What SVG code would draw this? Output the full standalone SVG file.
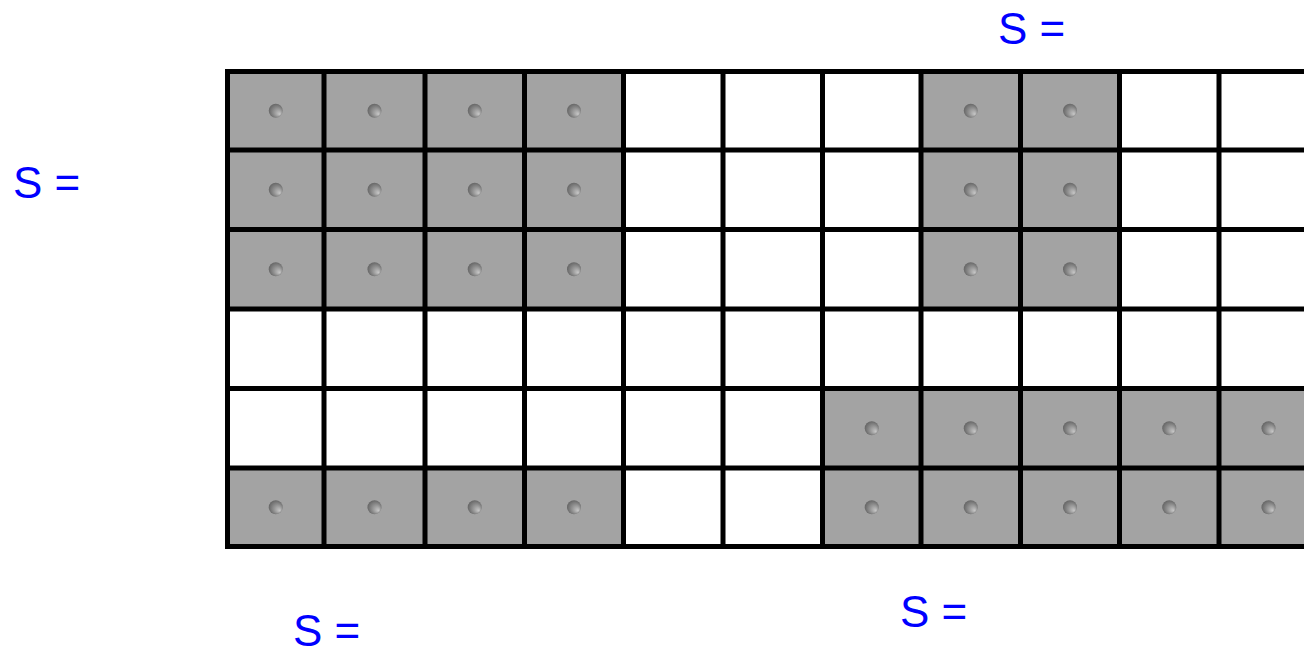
<svg xmlns="http://www.w3.org/2000/svg" width="1304" height="655" viewBox="0 0 1304 655">
<style>
.cell{fill:#a3a3a3;}
.dot{fill:url(#dg);}
.grid line{stroke:#000;stroke-width:5;}
.lbl{font-family:"Liberation Sans",Arial,sans-serif;font-size:44px;fill:#0000ff;}
</style>
<defs>
<radialGradient id="dg" cx="0.5" cy="0.5" r="0.6" fx="0.8" fy="0.75">
<stop offset="0" stop-color="#c8c8c8"/>
<stop offset="1" stop-color="#5a5a5a"/>
</radialGradient>
</defs>
<rect width="1304" height="655" fill="#fff"/>
<g id="cells">
<g id="c0-0"><rect class="cell" x="227.5" y="71.5" width="96.5" height="78.5"/><circle class="dot" cx="275.75" cy="110.75" r="7"/></g>
<g id="c0-1"><rect class="cell" x="324" y="71.5" width="101" height="78.5"/><circle class="dot" cx="374.5" cy="110.75" r="7"/></g>
<g id="c0-2"><rect class="cell" x="425" y="71.5" width="99.5" height="78.5"/><circle class="dot" cx="474.75" cy="110.75" r="7"/></g>
<g id="c0-3"><rect class="cell" x="524.5" y="71.5" width="99" height="78.5"/><circle class="dot" cx="574" cy="110.75" r="7"/></g>
<g id="c0-7"><rect class="cell" x="921" y="71.5" width="99.5" height="78.5"/><circle class="dot" cx="970.75" cy="110.75" r="7"/></g>
<g id="c0-8"><rect class="cell" x="1020.5" y="71.5" width="99" height="78.5"/><circle class="dot" cx="1070" cy="110.75" r="7"/></g>

<g id="c1-0"><rect class="cell" x="227.5" y="150" width="96.5" height="79.5"/><circle class="dot" cx="275.75" cy="189.75" r="7"/></g>
<g id="c1-1"><rect class="cell" x="324" y="150" width="101" height="79.5"/><circle class="dot" cx="374.5" cy="189.75" r="7"/></g>
<g id="c1-2"><rect class="cell" x="425" y="150" width="99.5" height="79.5"/><circle class="dot" cx="474.75" cy="189.75" r="7"/></g>
<g id="c1-3"><rect class="cell" x="524.5" y="150" width="99" height="79.5"/><circle class="dot" cx="574" cy="189.75" r="7"/></g>
<g id="c1-7"><rect class="cell" x="921" y="150" width="99.5" height="79.5"/><circle class="dot" cx="970.75" cy="189.75" r="7"/></g>
<g id="c1-8"><rect class="cell" x="1020.5" y="150" width="99" height="79.5"/><circle class="dot" cx="1070" cy="189.75" r="7"/></g>

<g id="c2-0"><rect class="cell" x="227.5" y="229.5" width="96.5" height="79.5"/><circle class="dot" cx="275.75" cy="269.25" r="7"/></g>
<g id="c2-1"><rect class="cell" x="324" y="229.5" width="101" height="79.5"/><circle class="dot" cx="374.5" cy="269.25" r="7"/></g>
<g id="c2-2"><rect class="cell" x="425" y="229.5" width="99.5" height="79.5"/><circle class="dot" cx="474.75" cy="269.25" r="7"/></g>
<g id="c2-3"><rect class="cell" x="524.5" y="229.5" width="99" height="79.5"/><circle class="dot" cx="574" cy="269.25" r="7"/></g>
<g id="c2-7"><rect class="cell" x="921" y="229.5" width="99.5" height="79.5"/><circle class="dot" cx="970.75" cy="269.25" r="7"/></g>
<g id="c2-8"><rect class="cell" x="1020.5" y="229.5" width="99" height="79.5"/><circle class="dot" cx="1070" cy="269.25" r="7"/></g>

<g id="c4-6"><rect class="cell" x="822.5" y="388.5" width="98.5" height="79.5"/><circle class="dot" cx="871.75" cy="428.25" r="7"/></g>
<g id="c4-7"><rect class="cell" x="921" y="388.5" width="99.5" height="79.5"/><circle class="dot" cx="970.75" cy="428.25" r="7"/></g>
<g id="c4-8"><rect class="cell" x="1020.5" y="388.5" width="99" height="79.5"/><circle class="dot" cx="1070" cy="428.25" r="7"/></g>
<g id="c4-9"><rect class="cell" x="1119.5" y="388.5" width="99.5" height="79.5"/><circle class="dot" cx="1169.25" cy="428.25" r="7"/></g>
<g id="c4-10"><rect class="cell" x="1219" y="388.5" width="99" height="79.5"/><circle class="dot" cx="1268.5" cy="428.25" r="7"/></g>

<g id="c5-0"><rect class="cell" x="227.5" y="468" width="96.5" height="78.5"/><circle class="dot" cx="275.75" cy="507.25" r="7"/></g>
<g id="c5-1"><rect class="cell" x="324" y="468" width="101" height="78.5"/><circle class="dot" cx="374.5" cy="507.25" r="7"/></g>
<g id="c5-2"><rect class="cell" x="425" y="468" width="99.5" height="78.5"/><circle class="dot" cx="474.75" cy="507.25" r="7"/></g>
<g id="c5-3"><rect class="cell" x="524.5" y="468" width="99" height="78.5"/><circle class="dot" cx="574" cy="507.25" r="7"/></g>
<g id="c5-6"><rect class="cell" x="822.5" y="468" width="98.5" height="78.5"/><circle class="dot" cx="871.75" cy="507.25" r="7"/></g>
<g id="c5-7"><rect class="cell" x="921" y="468" width="99.5" height="78.5"/><circle class="dot" cx="970.75" cy="507.25" r="7"/></g>
<g id="c5-8"><rect class="cell" x="1020.5" y="468" width="99" height="78.5"/><circle class="dot" cx="1070" cy="507.25" r="7"/></g>
<g id="c5-9"><rect class="cell" x="1119.5" y="468" width="99.5" height="78.5"/><circle class="dot" cx="1169.25" cy="507.25" r="7"/></g>
<g id="c5-10"><rect class="cell" x="1219" y="468" width="99" height="78.5"/><circle class="dot" cx="1268.5" cy="507.25" r="7"/></g>
</g>
<g id="grid" class="grid">
<line x1="225" y1="71.5" x2="1320" y2="71.5"/>
<line x1="225" y1="150" x2="1320" y2="150"/>
<line x1="225" y1="229.5" x2="1320" y2="229.5"/>
<line x1="225" y1="309" x2="1320" y2="309"/>
<line x1="225" y1="388.5" x2="1320" y2="388.5"/>
<line x1="225" y1="468" x2="1320" y2="468"/>
<line x1="225" y1="546.5" x2="1320" y2="546.5"/>
<line x1="227.5" y1="69" x2="227.5" y2="549"/>
<line x1="324" y1="69" x2="324" y2="549"/>
<line x1="425" y1="69" x2="425" y2="549"/>
<line x1="524.5" y1="69" x2="524.5" y2="549"/>
<line x1="623.5" y1="69" x2="623.5" y2="549"/>
<line x1="723" y1="69" x2="723" y2="549"/>
<line x1="822.5" y1="69" x2="822.5" y2="549"/>
<line x1="921" y1="69" x2="921" y2="549"/>
<line x1="1020.5" y1="69" x2="1020.5" y2="549"/>
<line x1="1119.5" y1="69" x2="1119.5" y2="549"/>
<line x1="1219" y1="69" x2="1219" y2="549"/>
</g>
<g id="labels">
<text id="lbl-top" class="lbl" x="998" y="44">S =</text>
<text id="lbl-left" class="lbl" x="13" y="198">S =</text>
<text id="lbl-bl" class="lbl" x="293" y="646">S =</text>
<text id="lbl-br" class="lbl" x="900" y="627">S =</text>
</g>
</svg>
